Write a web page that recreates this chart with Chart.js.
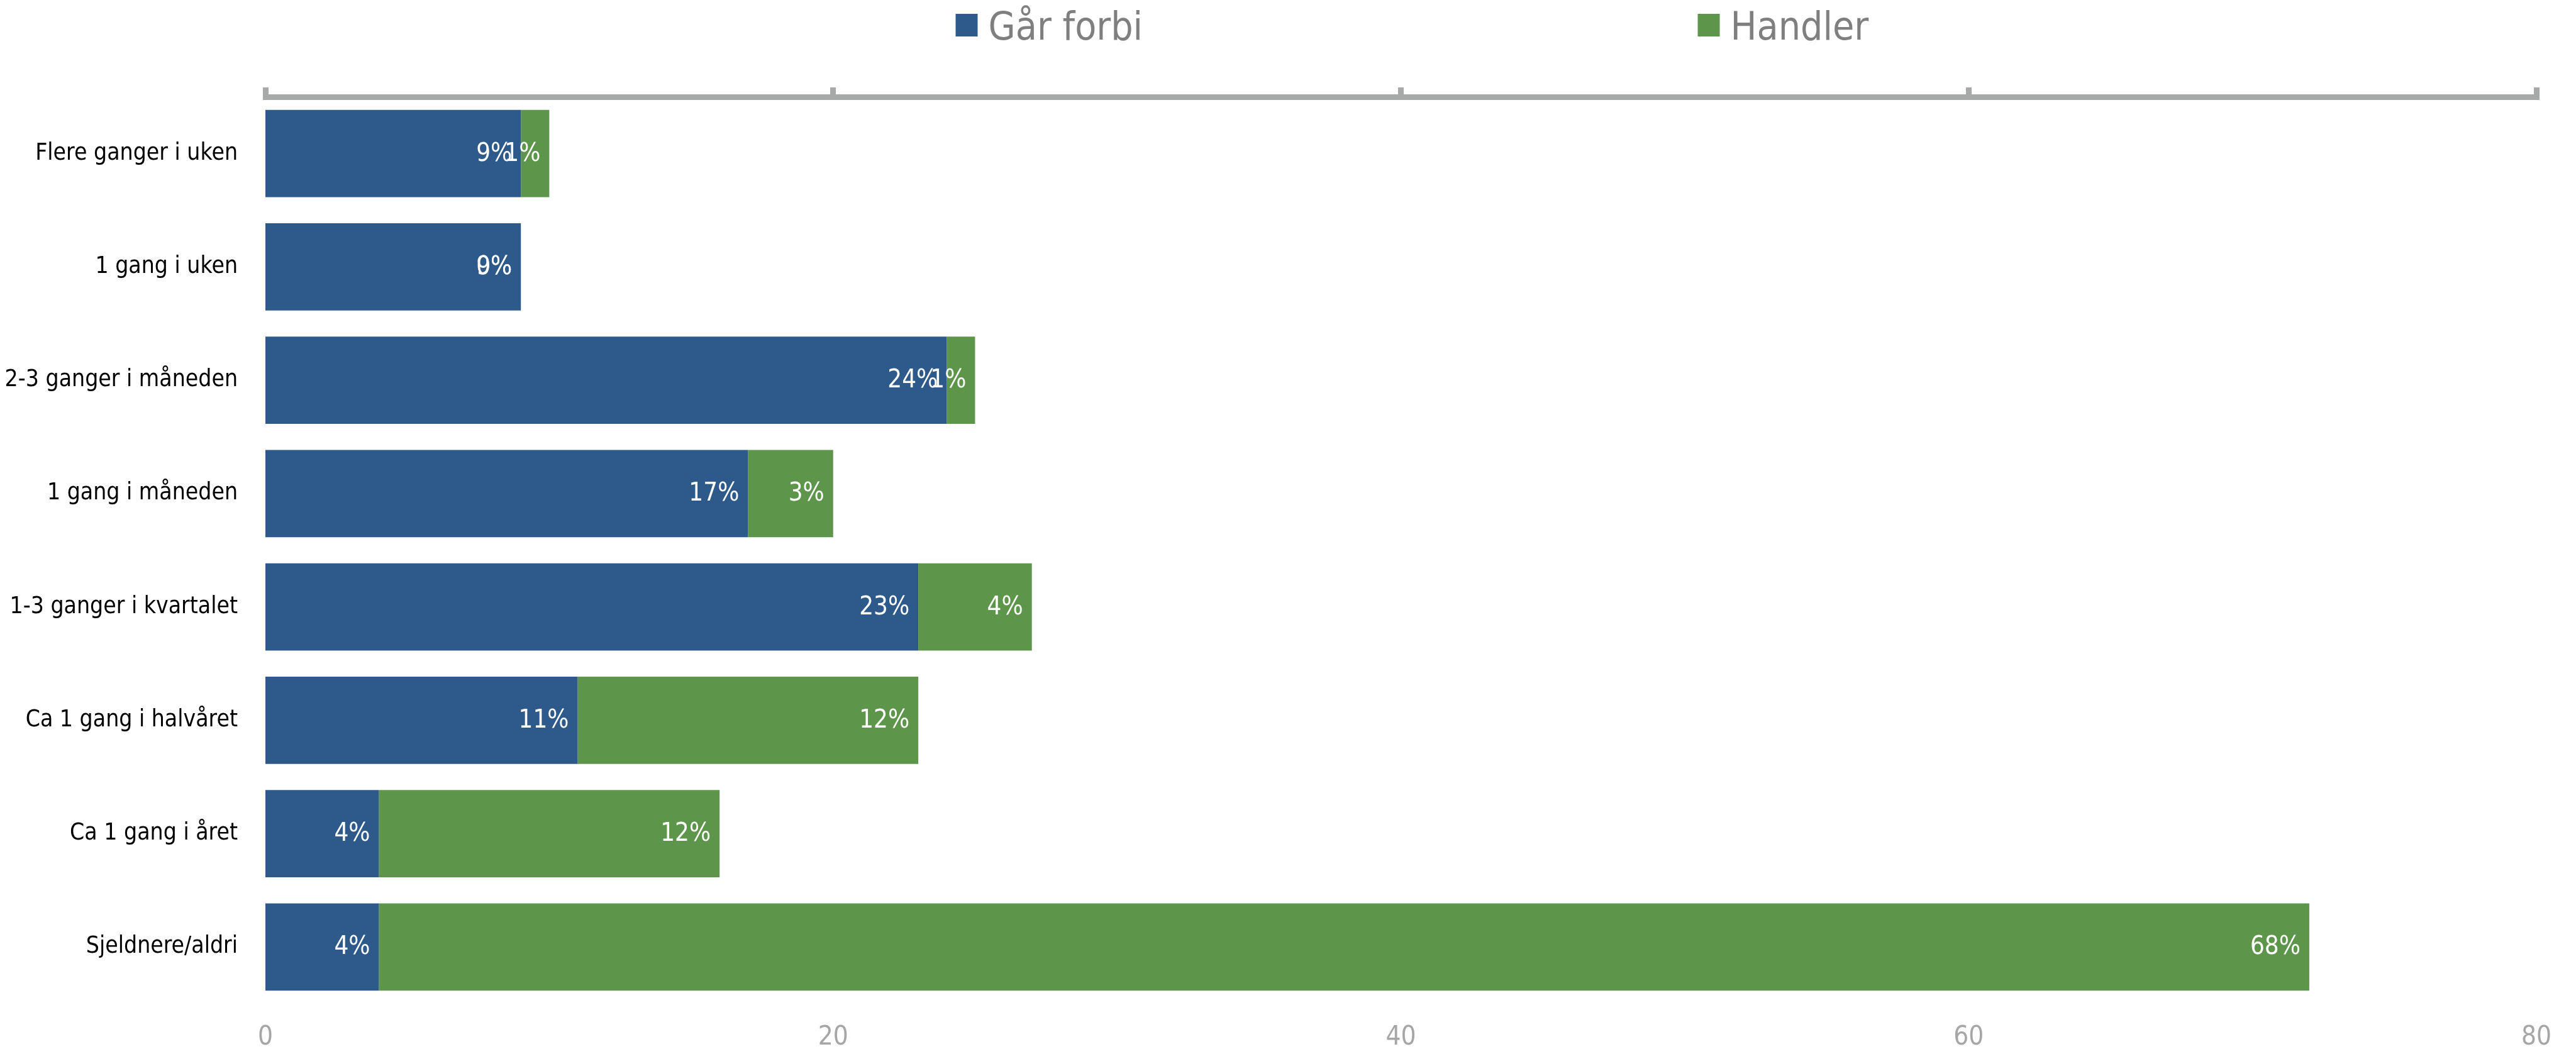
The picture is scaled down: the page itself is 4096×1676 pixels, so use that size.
<!DOCTYPE html>
<html>
<head>
<meta charset="utf-8">
<script src="https://cdn.jsdelivr.net/npm/chart.js@4"></script>
<style>
  html, body { margin: 0; padding: 0; background: #fff; overflow: hidden; }
  .chart-container { position: relative; width: 4096px; height: 1676px; }
</style>
</head>
<body>
<div class="chart-container">
  <canvas id="chart" aria-label="Går forbi / Handler" role="img"></canvas>
</div>
<script>
const categories = [
  'Flere ganger i uken',
  '1 gang i uken',
  '2-3 ganger i måneden',
  '1 gang i måneden',
  '1-3 ganger i kvartalet',
  'Ca 1 gang i halvåret',
  'Ca 1 gang i året',
  'Sjeldnere/aldri',
];
const seriesNames = ['Går forbi', 'Handler'];
const garForbi = [9, 9, 24, 17, 23, 11, 4, 4];
const handler = [1, 0, 1, 3, 4, 12, 12, 68];
const xTicks = [0, 20, 40, 60, 80];

const BLUE = '#2E5A8B';
const GREEN = '#5D964A';
const AXIS_GREY = '#A6A9A8';
const FONT = '"DejaVu Sans Condensed", "Liberation Sans Narrow", sans-serif';

// white value labels at the inner end of each bar segment
const barLabels = {
  id: 'barLabels',
  afterDatasetsDraw(chart) {
    const { ctx } = chart;
    ctx.save();
    ctx.font = `40px ${FONT}`;
    ctx.fillStyle = '#fff';
    ctx.textAlign = 'right';
    ctx.textBaseline = 'middle';
    chart.data.datasets.forEach((ds, i) => {
      chart.getDatasetMeta(i).data.forEach((bar, j) => {
        ctx.fillText(`${ds.data[j]}%`, bar.x - 14, bar.y + 1);
      });
    });
    ctx.restore();
  },
};

// legend spread out in wide slots like the original
const slotLegend = {
  id: 'slotLegend',
  afterDraw(chart) {
    const { ctx, chartArea } = chart;
    const cx = (chartArea.left + chartArea.right) / 2;
    const slot = 1180;
    ctx.save();
    ctx.font = `62px ${FONT}`;
    ctx.textAlign = 'left';
    ctx.textBaseline = 'alphabetic';
    chart.data.datasets.forEach((ds, i) => {
      const x = cx - 0.6 * slot + i * slot;
      ctx.fillStyle = ds.backgroundColor;
      ctx.fillRect(x, 22, 35, 36);
      ctx.fillStyle = '#7F7F7F';
      ctx.fillText(ds.label, x + 52, 63);
    });
    ctx.restore();
  },
};

const ctxEl = document.getElementById('chart');
new Chart(ctxEl, {
  type: 'bar',
  data: {
    labels: categories,
    datasets: [
      { label: seriesNames[0], data: garForbi, backgroundColor: BLUE, xAxisID: 'x' },
      { label: seriesNames[1], data: handler, backgroundColor: GREEN, xAxisID: 'x' },
    ],
  },
  options: {
    indexAxis: 'y',
    responsive: true,
    maintainAspectRatio: false,
    devicePixelRatio: 1,
    animation: false,
    layout: { padding: { top: 139, right: 63, left: 0, bottom: 0 } },
    datasets: { bar: { barPercentage: 0.77, categoryPercentage: 1 } },
    plugins: {
      legend: { display: false },
      tooltip: { enabled: false },
    },
    scales: {
      x: {
        position: 'bottom',
        stacked: true,
        min: 0,
        max: 80,
        afterBuildTicks(scale) { scale.ticks = xTicks.map((v) => ({ value: v })); },
        afterFit(scale) { scale.height = 80; },
        grid: { display: false, drawTicks: false },
        border: { display: false },
        ticks: { color: '#A6A6A6', font: { family: FONT, size: 42 }, padding: 29 },
      },
      x2: {
        position: 'top',
        min: 0,
        max: 80,
        afterBuildTicks(scale) { scale.ticks = xTicks.map((v) => ({ value: v })); },
        grid: {
          drawOnChartArea: false,
          drawTicks: true,
          tickLength: 15,
          color: AXIS_GREY,
          lineWidth: 9,
        },
        border: { display: true, width: 9, color: AXIS_GREY },
        ticks: { display: false },
      },
      y: {
        stacked: true,
        afterFit(scale) { scale.width = 422; },
        grid: { display: false, drawTicks: false },
        border: { display: false },
        ticks: { color: '#000', font: { family: FONT, size: 37 }, padding: 44 },
      },
    },
  },
  plugins: [barLabels, slotLegend],
});
</script>
</body>
</html>
